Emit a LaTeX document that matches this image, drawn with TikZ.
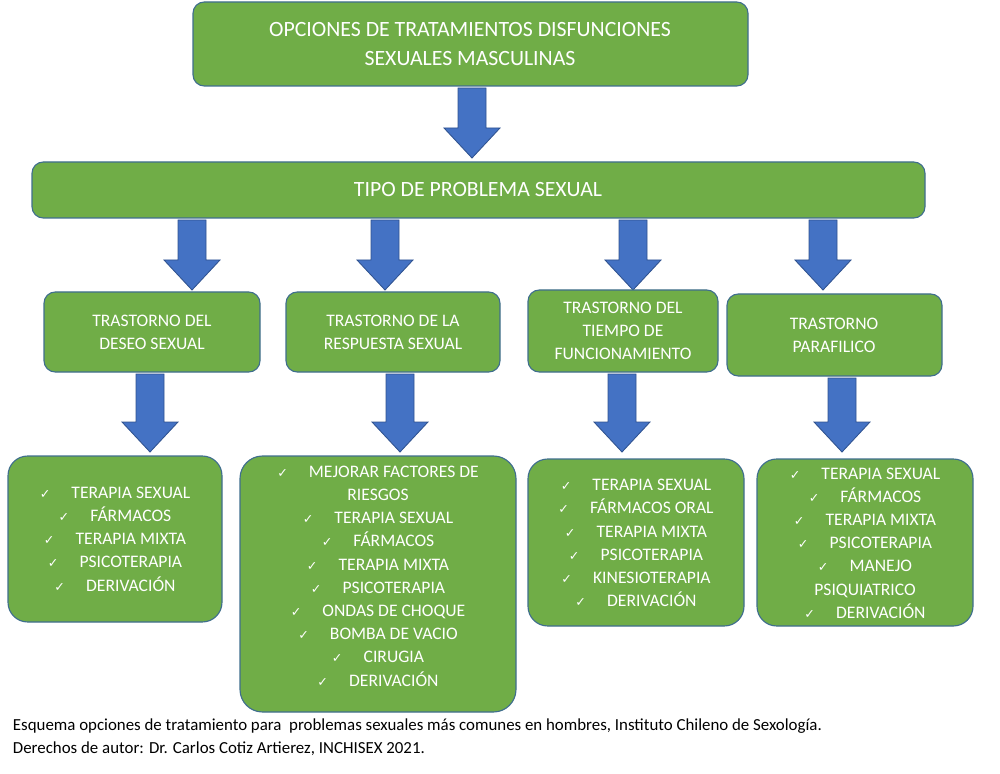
\documentclass[tikz,border=0pt]{standalone}
\usepackage{fontspec}
\setmainfont{Carlito}
\newfontfamily\symfont{DejaVu Sans}
\definecolor{boxgreen}{HTML}{70AD47}
\definecolor{boxline}{HTML}{3F6E8E}
\definecolor{arrowblue}{HTML}{4472C4}
\definecolor{arrowline}{HTML}{2F528F}
\newcommand{\ck}{{\symfont\small ✓}\hspace{1.2em}}
\newcommand{\blockarrow}[3]{%
  \filldraw[arrowfill] (#1-14,#2) -- (#1+14,#2) -- (#1+14,#3-30) -- (#1+28,#3-30)
    -- (#1,#3) -- (#1-28,#3-30) -- (#1-14,#3-30) -- cycle;}
\begin{document}
\begin{tikzpicture}[x=0.025cm,y=-0.025cm,
  box/.style={draw=boxline,fill=boxgreen,rounded corners=8pt,line width=0.8pt,
    align=center,text=white,inner sep=0pt},
  arrowfill/.style={fill=arrowblue,draw=arrowline,line width=0.6pt},
  lst/.style={align=center,text=white,font=\fontsize{12.5}{16.5}\selectfont}]
\useasboundingbox (0,0) rectangle (1000,774);

% encabezado
\draw[box] (193,2) rectangle (748,86);
\node[text=white,align=center,font=\fontsize{15.5}{21}\selectfont] (titulo) at (470,44)
  {OPCIONES DE TRATAMIENTOS DISFUNCIONES\\SEXUALES MASCULINAS};
\blockarrow{472}{88}{158}
\draw[box] (32,162) rectangle (925,218);
\node[text=white,font=\fontsize{15.5}{19}\selectfont] (tipo) at (478,190) {TIPO DE PROBLEMA SEXUAL};

% flechas al segundo nivel
\foreach \x in {192,385,633,823}{\blockarrow{\x}{220}{290}}

% segundo nivel
\draw[box] (44,292) rectangle (260,372);
\node[lst] (deseo) at (152,332) {TRASTORNO DEL\\DESEO SEXUAL};
\draw[box] (286,292) rectangle (500,372);
\node[lst] (respuesta) at (393,332) {TRASTORNO DE LA\\RESPUESTA SEXUAL};
\draw[box] (528,290) rectangle (718,372);
\node[lst] (tiempo) at (623,331) {TRASTORNO DEL\\TIEMPO DE\\FUNCIONAMIENTO};
\draw[box] (727,294) rectangle (942,376);
\node[lst] (parafilico) at (834,335) {TRASTORNO\\PARAFILICO};

% flechas al tercer nivel
\foreach \x/\ya in {150/374,400/374,622/374,842/378}{\blockarrow{\x}{\ya}{452}}

% tercer nivel
\draw[box,rounded corners=14pt] (8,456) rectangle (222,622);
\node[lst] (tratA) at (115,539) {\ck TERAPIA SEXUAL\\\ck FÁRMACOS\\\ck TERAPIA MIXTA\\
  \ck PSICOTERAPIA\\\ck DERIVACIÓN};
\draw[box,rounded corners=16pt] (240,456) rectangle (516,712);
\node[lst] (tratB) at (378,576) {\ck MEJORAR FACTORES DE\\RIESGOS\\\ck TERAPIA SEXUAL\\
  \ck FÁRMACOS\\\ck TERAPIA MIXTA\\\ck PSICOTERAPIA\\\ck ONDAS DE CHOQUE\\
  \ck BOMBA DE VACIO\\\ck CIRUGIA\\\ck DERIVACIÓN};
\draw[box,rounded corners=14pt] (528,459) rectangle (744,626);
\node[lst] (tratC) at (636,543) {\ck TERAPIA SEXUAL\\\ck FÁRMACOS ORAL\\\ck TERAPIA MIXTA\\
  \ck PSICOTERAPIA\\\ck KINESIOTERAPIA\\\ck DERIVACIÓN};
\draw[box,rounded corners=14pt] (757,459) rectangle (973,626);
\node[lst] (tratD) at (865,543) {\ck TERAPIA SEXUAL\\\ck FÁRMACOS\\\ck TERAPIA MIXTA\\
  \ck PSICOTERAPIA\\\ck MANEJO\\PSIQUIATRICO\\\ck DERIVACIÓN};

% pie
\node[anchor=west,align=left,font=\fontsize{12}{16.5}\selectfont] (pie) at (8,737)
  {Esquema opciones de tratamiento para \ problemas sexuales más comunes en hombres, Instituto Chileno de Sexología.\\
   Derechos de autor: Dr. Carlos Cotiz Artierez, INCHISEX 2021.};
\end{tikzpicture}
\end{document}
